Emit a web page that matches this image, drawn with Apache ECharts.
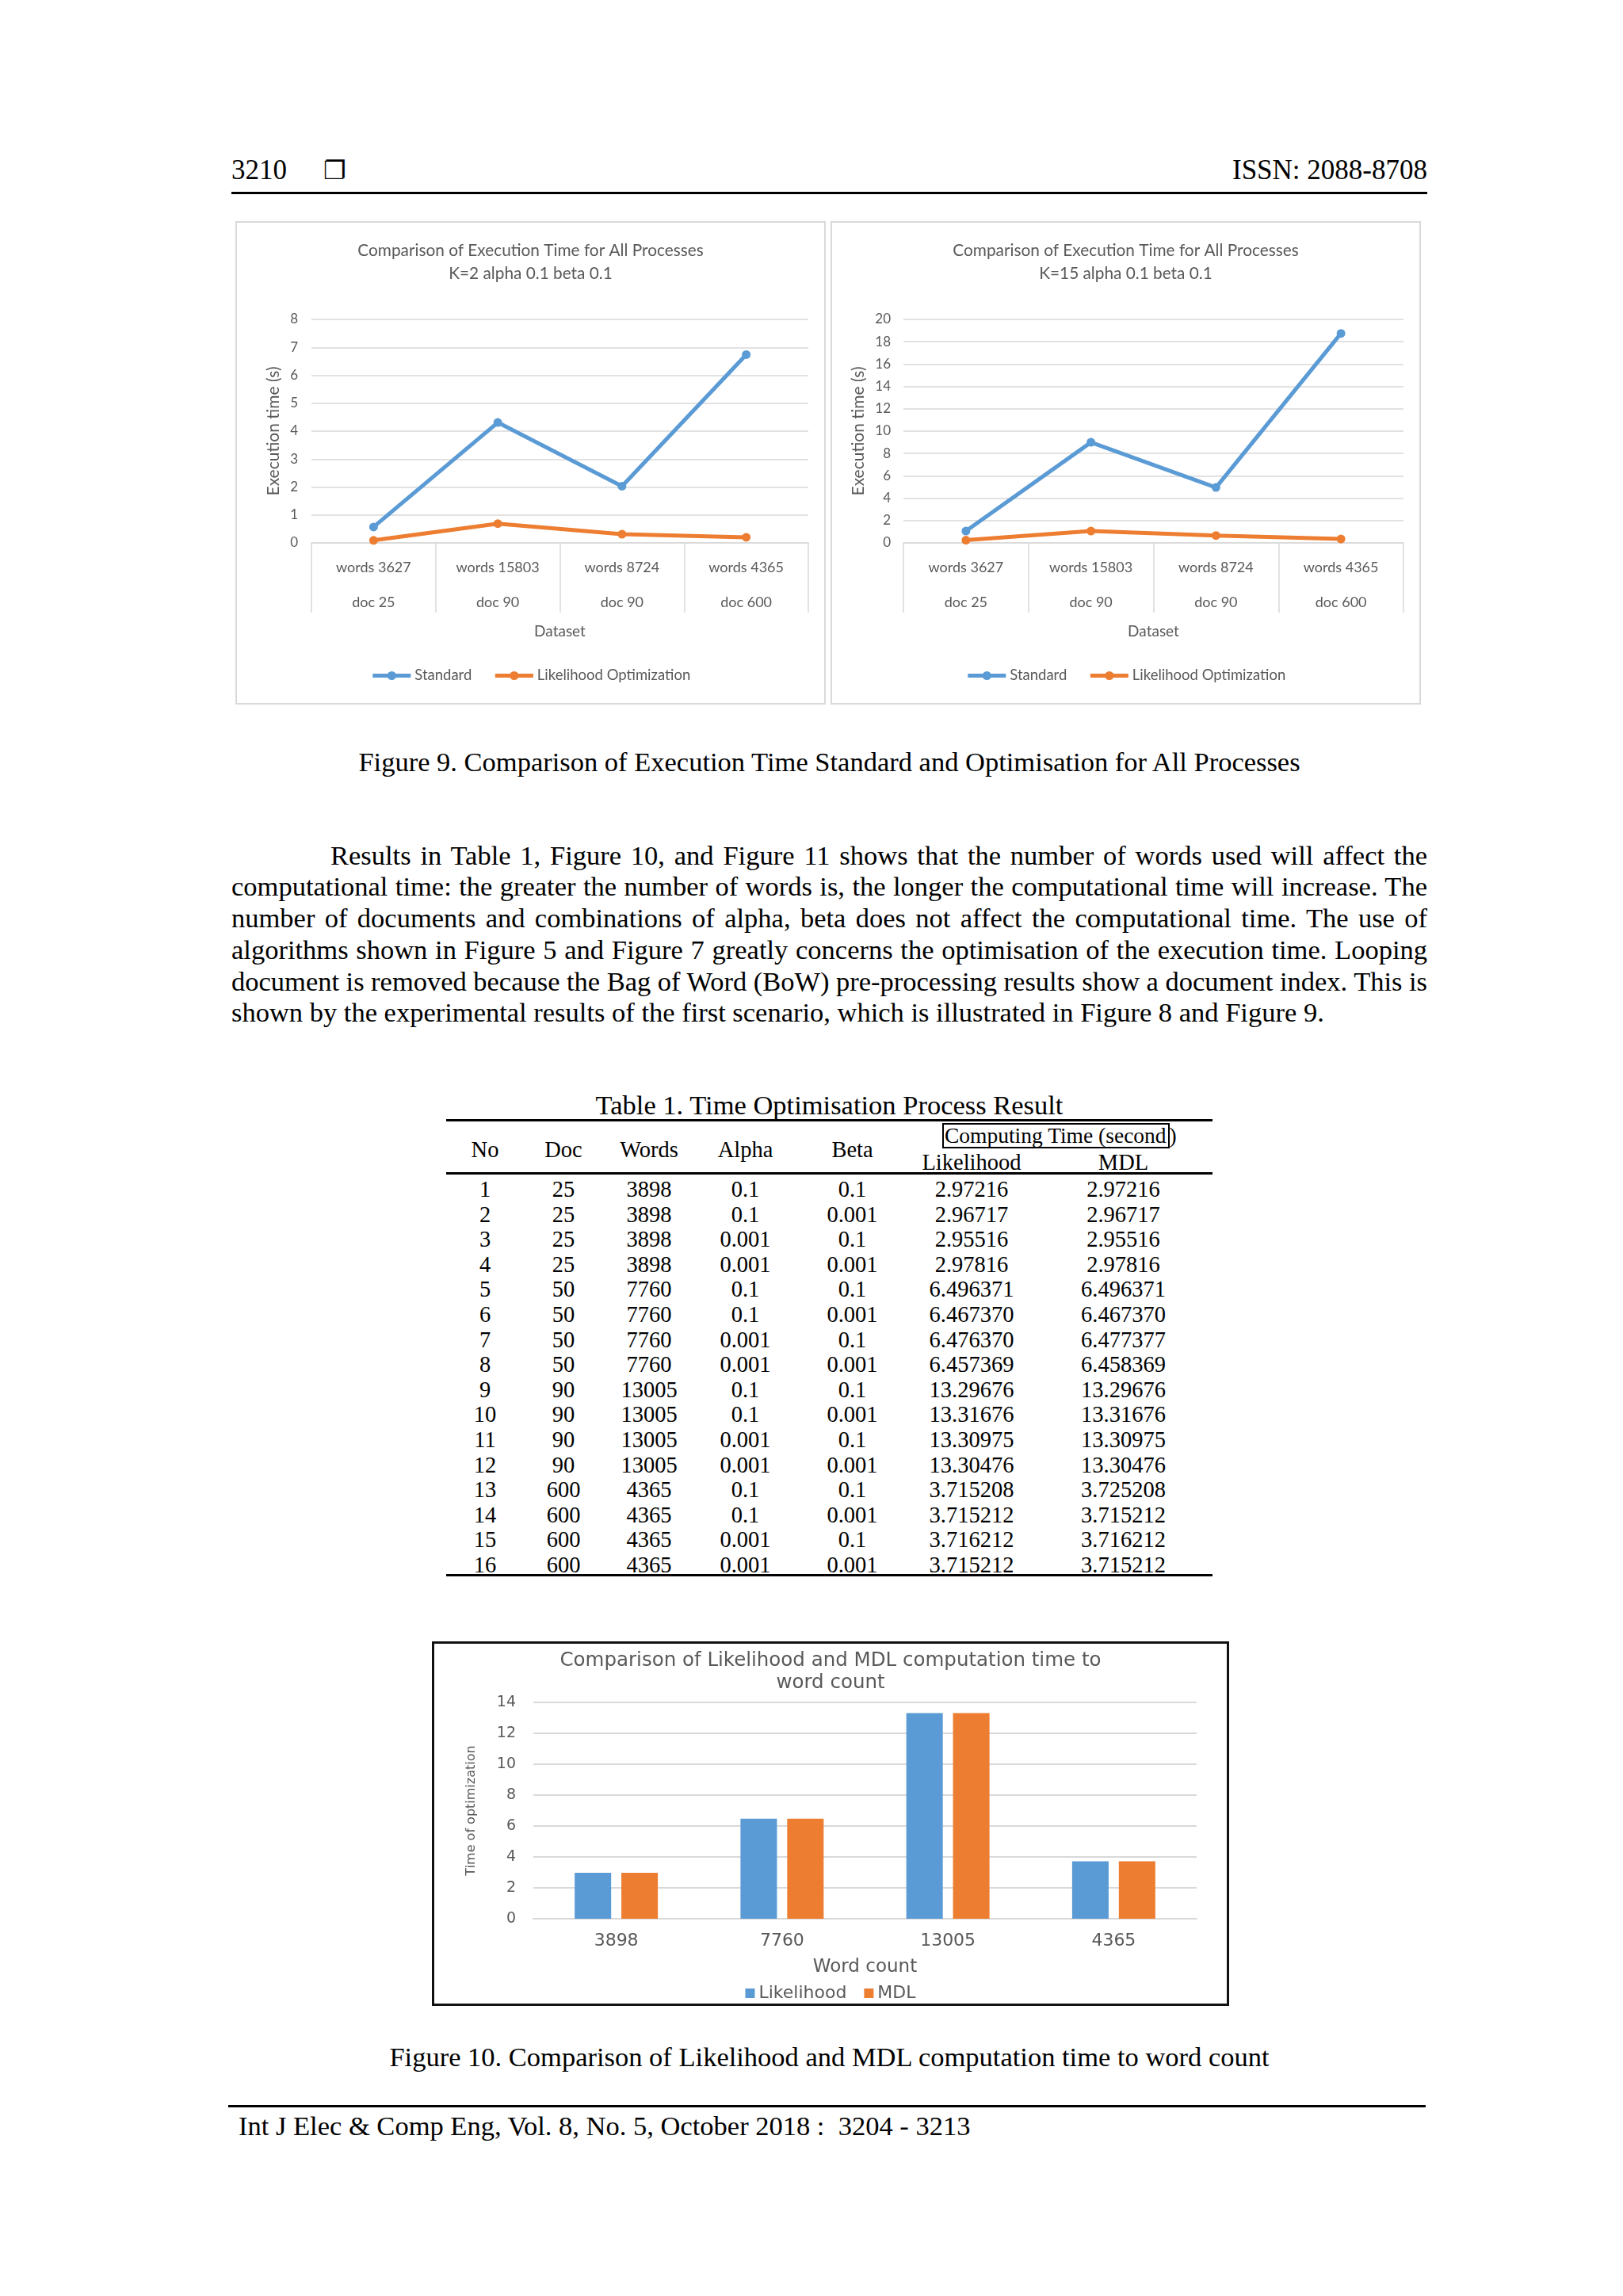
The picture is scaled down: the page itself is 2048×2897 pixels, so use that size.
<!DOCTYPE html>
<html><head><meta charset="utf-8">
<script src="https://cdn.jsdelivr.net/npm/echarts@6.0.0/dist/echarts.min.js"></script>
<style>
html,body{margin:0;padding:0;background:#fff;}
body{width:2048px;height:2897px;position:relative;overflow:hidden;font-family:"Liberation Serif","Times New Roman",serif;color:#000;}
.abs{position:absolute;white-space:nowrap;}
.rule{position:absolute;background:#000;}
.chart{position:absolute;}
.frame{position:absolute;box-sizing:border-box;pointer-events:none;}
.tcell{position:absolute;text-align:center;white-space:nowrap;}
</style>
</head>
<body>
<!-- page header -->
<div class="abs" style="left:292px;top:195px;font-size:35px;line-height:40px;">3210</div>
<div class="abs" style="left:408px;top:195px;font-size:32px;line-height:40px;font-family:'DejaVu Sans';">&#x2750;</div>
<div class="abs" style="right:247px;top:195px;font-size:35px;line-height:40px;">ISSN: 2088-8708</div>
<div class="rule" style="left:292px;top:242px;width:1509px;height:3px;"></div>

<!-- Figure 9 charts -->
<div id="c1" class="chart" style="left:297px;top:279px;width:745px;height:610px;"></div>
<div class="frame" style="left:297px;top:279px;width:745px;height:610px;border:2px solid #d9d9d9;"></div>
<div id="c2" class="chart" style="left:1048px;top:279px;width:745px;height:610px;"></div>
<div class="frame" style="left:1048px;top:279px;width:745px;height:610px;border:2px solid #d9d9d9;"></div>

<div class="abs" style="left:0;width:2093px;text-align:center;top:941px;font-size:34.5px;line-height:40px;">Figure 9. Comparison of Execution Time Standard and Optimisation for All Processes</div>

<div id="para"></div>

<div class="abs" style="left:0;width:2093px;text-align:center;top:1374px;font-size:34.5px;line-height:40px;">Table 1. Time Optimisation Process Result</div>
<div id="table"></div>

<!-- Figure 10 chart -->
<div id="c3" class="chart" style="left:546px;top:2072px;width:1004px;height:458px;"></div>
<div class="frame" style="left:545px;top:2071px;width:1006px;height:460px;border:3px solid #111;"></div>

<div class="abs" style="left:0;width:2093px;text-align:center;top:2575px;font-size:34.5px;line-height:40px;">Figure 10. Comparison of Likelihood and MDL computation time to word count</div>

<!-- footer -->
<div class="rule" style="left:288px;top:2656px;width:1511px;height:3px;"></div>
<div class="abs" style="left:301px;top:2662px;font-size:34.5px;line-height:40px;white-space:pre;">Int J Elec &amp; Comp Eng, Vol. 8, No. 5, October 2018 :  3204 - 3213</div>

<script>
// ---------------- data ----------------
const lineWords = ['words 3627', 'words 15803', 'words 8724', 'words 4365'];
const lineDocs = ['doc 25', 'doc 90', 'doc 90', 'doc 600'];
const standardK2 = [0.57, 4.31, 2.03, 6.74];
const likelihoodK2 = [0.09, 0.69, 0.31, 0.20];
const standardK15 = [1.06, 9.0, 4.96, 18.75];
const likelihoodK15 = [0.24, 1.06, 0.66, 0.35];

const barCategories = ['3898', '7760', '13005', '4365'];
const likelihoodTime = [2.97, 6.47, 13.31, 3.72];
const mdlTime = [2.97, 6.48, 13.31, 3.72];

const tableNo = ['1','2','3','4','5','6','7','8','9','10','11','12','13','14','15','16'];
const tableDoc = ['25','25','25','25','50','50','50','50','90','90','90','90','600','600','600','600'];
const tableWords = ['3898','3898','3898','3898','7760','7760','7760','7760','13005','13005','13005','13005','4365','4365','4365','4365'];
const tableAlpha = ['0.1','0.1','0.001','0.001','0.1','0.1','0.001','0.001','0.1','0.1','0.001','0.001','0.1','0.1','0.001','0.001'];
const tableBeta = ['0.1','0.001','0.1','0.001','0.1','0.001','0.1','0.001','0.1','0.001','0.1','0.001','0.1','0.001','0.1','0.001'];
const tableLikelihood = ['2.97216','2.96717','2.95516','2.97816','6.496371','6.467370','6.476370','6.457369','13.29676','13.31676','13.30975','13.30476','3.715208','3.715212','3.716212','3.715212'];
const tableMDL = ['2.97216','2.96717','2.95516','2.97816','6.496371','6.467370','6.477377','6.458369','13.29676','13.31676','13.30975','13.30476','3.725208','3.715212','3.716212','3.715212'];

const paragraphLines = [
  'Results in Table 1, Figure 10, and Figure 11 shows that the number of words used will affect the',
  'computational time: the greater the number of words is, the longer the computational time will increase. The',
  'number of documents and combinations of alpha, beta does not affect the computational time. The use of',
  'algorithms shown in Figure 5 and Figure 7 greatly concerns the optimisation of the execution time. Looping',
  'document is removed because the Bag of Word (BoW) pre-processing results show a document index. This is',
  'shown by the experimental results of the first scenario, which is illustrated in Figure 8 and Figure 9.'
];

// ---------------- paragraph ----------------
(function(){
  const host = document.getElementById('para');
  const lineCenters = [1079, 1118, 1158, 1198, 1238, 1277];
  paragraphLines.forEach((t, i) => {
    const d = document.createElement('div');
    d.className = 'abs';
    const left = i === 0 ? 417 : 292;
    d.style.left = left + 'px';
    d.style.top = (lineCenters[i] - 20) + 'px';
    d.style.fontSize = '34.5px';
    d.style.lineHeight = '40px';
    d.textContent = t;
    host.appendChild(d);
    if (i < paragraphLines.length - 1) {
      const target = 1801 - left;
      const w = d.getBoundingClientRect().width;
      const spaces = (t.match(/ /g) || []).length;
      d.style.wordSpacing = ((target - w) / spaces) + 'px';
    }
  });
})();

// ---------------- table ----------------
(function(){
  const host = document.getElementById('table');
  const cols = [[563,661],[661,761],[761,877],[877,1004],[1004,1147],[1147,1305],[1305,1530]];
  function cell(text, c, cy){
    const d = document.createElement('div');
    d.className = 'tcell';
    d.style.left = cols[c][0] + 'px';
    d.style.width = (cols[c][1] - cols[c][0]) + 'px';
    d.style.top = (cy - 16) + 'px';
    d.style.height = '32px';
    d.style.lineHeight = '32px';
    d.style.fontSize = '28.5px';
    d.textContent = text;
    host.appendChild(d);
    return d;
  }
  function rule(top, h){
    const r = document.createElement('div');
    r.className = 'rule';
    r.style.left = '563px'; r.style.width = '967px';
    r.style.top = top + 'px'; r.style.height = h + 'px';
    host.appendChild(r);
  }
  rule(1412, 3); rule(1479, 3); rule(1986, 3);
  ['No','Doc','Words','Alpha','Beta'].forEach((h, i) => cell(h, i, 1451));
  cell('Likelihood', 5, 1467);
  cell('MDL', 6, 1467);
  const ct = document.createElement('div');
  ct.className = 'abs';
  ct.style.left = '1189px'; ct.style.top = '1417px';
  ct.style.fontSize = '27.5px'; ct.style.lineHeight = '28px';
  ct.innerHTML = '<span style="display:inline-block;border:2px solid #000;padding:0 2px 0 1px;line-height:28px;">Computing Time (second</span>)';
  host.appendChild(ct);
  const cols7 = [tableNo, tableDoc, tableWords, tableAlpha, tableBeta, tableLikelihood, tableMDL];
  for (let r = 0; r < tableNo.length; r++) {
    const cy = 1501 + r * 31.6;
    cols7.forEach((arr, c) => cell(arr[r], c, cy));
  }
})();

// ---------------- charts ----------------
const TXT = '#595959';
const GRID = '#d9d9d9';
const BLUE = '#5B9BD5';
const ORANGE = '#ED7D31';
const lineCats = lineWords.map((w, i) => w + '\n' + lineDocs[i]);

function lineOption(title, yMax, yInterval, std, lik, gridLeft, nameGap, labelMargin){
  const f = 'Lato';
  const mk = (name, data, color) => ({
    type: 'line', name: name, data: data,
    symbol: 'circle', symbolSize: 11,
    lineStyle: { width: 5, color: color },
    itemStyle: { color: color },
    z: name === 'Standard' ? 3 : 2
  });
  return {
    animation: false,
    title: { text: title, left: 'center', top: 18,
      textStyle: { fontFamily: f, fontSize: 20.8, fontWeight: 'normal', color: TXT, lineHeight: 29 } },
    legend: { top: 559, left: 'center', itemWidth: 48, itemHeight: 14, itemGap: 27,
      lineStyle: { width: 5 },
      textStyle: { fontFamily: f, fontSize: 18.5, color: TXT },
      data: ['Standard', 'Likelihood Optimization'] },
    grid: { left: gridLeft, right: 22, top: 124, bottom: 204, outerBoundsMode: 'none' },
    xAxis: { type: 'category', data: lineCats,
      axisLine: { lineStyle: { color: GRID, width: 1.5 } },
      axisTick: { show: true, length: 88, lineStyle: { color: GRID, width: 1.5 } },
      axisLabel: { interval: 0, margin: 9, fontFamily: f, fontSize: 18, color: TXT, lineHeight: 44 },
      name: 'Dataset', nameLocation: 'middle', nameGap: 102,
      nameTextStyle: { fontFamily: f, fontSize: 19, color: TXT } },
    yAxis: { type: 'value', min: 0, max: yMax, interval: yInterval,
      axisLine: { show: false }, axisTick: { show: false },
      splitLine: { lineStyle: { color: GRID, width: 1.5 } },
      axisLabel: { margin: labelMargin, fontFamily: f, fontSize: 17, color: TXT },
      name: 'Execution time (s)', nameLocation: 'middle', nameGap: nameGap,
      nameTextStyle: { fontFamily: f, fontSize: 21, color: TXT } },
    series: [ mk('Standard', std, BLUE), mk('Likelihood Optimization', lik, ORANGE) ]
  };
}

const c1 = echarts.init(document.getElementById('c1'));
c1.setOption(lineOption('Comparison of Execution Time for All Processes\nK=2 alpha 0.1 beta 0.1', 8, 1, standardK2, likelihoodK2, 96, 37, 17));
const c2 = echarts.init(document.getElementById('c2'));
c2.setOption(lineOption('Comparison of Execution Time for All Processes\nK=15 alpha 0.1 beta 0.1', 20, 2, standardK15, likelihoodK15, 92, 44, 16));

const c3 = echarts.init(document.getElementById('c3'));
const bf = 'DejaVu Sans';
c3.setOption({
  animation: false,
  title: { text: 'Comparison of Likelihood and MDL computation time to\nword count', left: 'center', top: 5,
    textStyle: { fontFamily: bf, fontSize: 24.5, fontWeight: 'normal', color: TXT, lineHeight: 28 } },
  legend: { top: 427, left: 'center', icon: 'rect', itemWidth: 12, itemHeight: 12, itemGap: 22,
    textStyle: { fontFamily: bf, fontSize: 22, color: TXT }, data: ['Likelihood', 'MDL'] },
  grid: { left: 127, right: 40, top: 76, bottom: 109, outerBoundsMode: 'none' },
  xAxis: { type: 'category', data: barCategories,
    axisLine: { lineStyle: { color: GRID, width: 2 } }, axisTick: { show: false },
    axisLabel: { interval: 0, margin: 17, fontFamily: bf, fontSize: 22, color: TXT },
    name: 'Word count', nameLocation: 'middle', nameGap: 50,
    nameTextStyle: { fontFamily: bf, fontSize: 23, color: TXT } },
  yAxis: { type: 'value', min: 0, max: 14, interval: 2,
    axisLine: { show: false }, axisTick: { show: false },
    splitLine: { lineStyle: { color: GRID, width: 2 } },
    axisLabel: { margin: 22, fontFamily: bf, fontSize: 19, color: TXT },
    name: 'Time of optimization', nameLocation: 'middle', nameGap: 70,
    nameTextStyle: { fontFamily: bf, fontSize: 16, color: TXT } },
  series: [
    { type: 'bar', name: 'Likelihood', data: likelihoodTime, barWidth: '22%', barGap: '28%', itemStyle: { color: BLUE } },
    { type: 'bar', name: 'MDL', data: mdlTime, barWidth: '22%', barGap: '28%', itemStyle: { color: ORANGE } }
  ]
});
</script>
</body></html>
